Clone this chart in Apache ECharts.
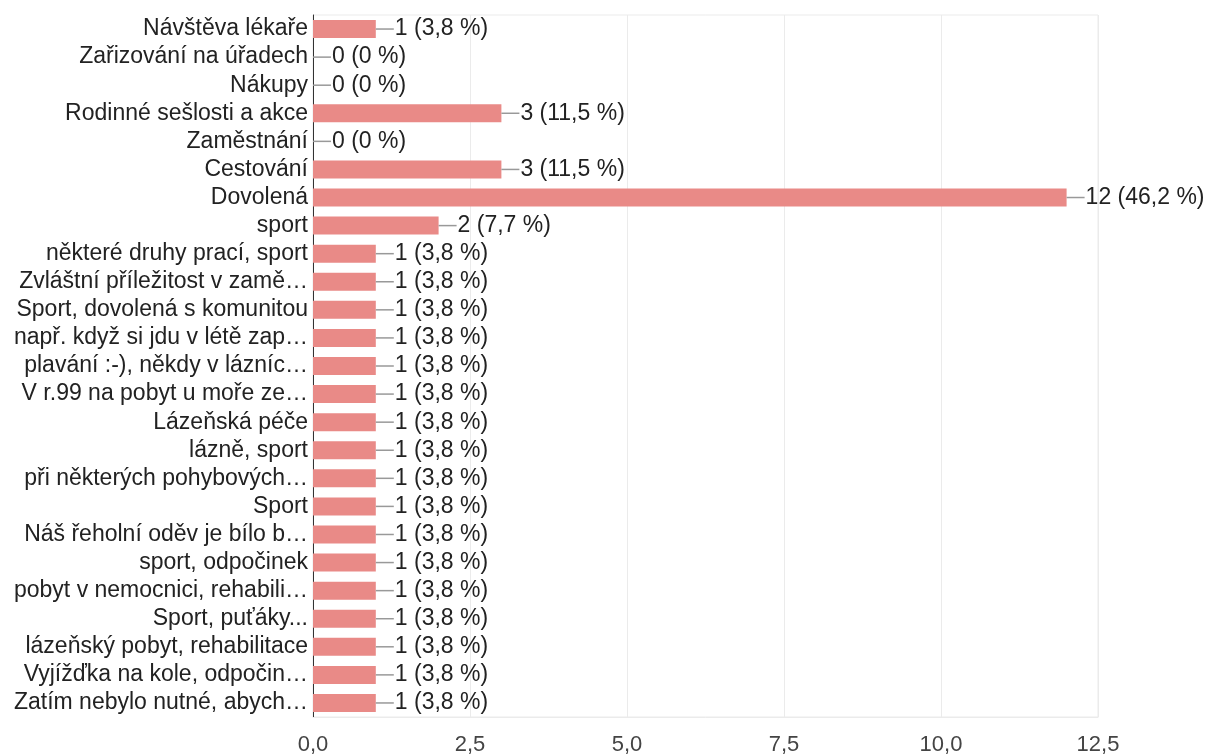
<!DOCTYPE html>
<html>
<head>
<meta charset="utf-8">
<script src="https://cdn.jsdelivr.net/npm/echarts@6/dist/echarts.min.js"></script>
<style>
  html, body { margin: 0; padding: 0; background: #fff; }
  #chart { width: 1208px; height: 756px; }
</style>
</head>
<body>
<div id="chart"></div>
<script>
const categories = [
  'Návštěva lékaře',
  'Zařizování na úřadech',
  'Nákupy',
  'Rodinné sešlosti a akce',
  'Zaměstnání',
  'Cestování',
  'Dovolená',
  'sport',
  'některé druhy prací, sport',
  'Zvláštní příležitost v zamě…',
  'Sport, dovolená s komunitou',
  'např. když si jdu v létě zap…',
  'plavání :-), někdy v lázníc…',
  'V r.99 na pobyt u moře ze…',
  'Lázeňská péče',
  'lázně, sport',
  'při některých pohybových…',
  'Sport',
  'Náš řeholní oděv je bílo b…',
  'sport, odpočinek',
  'pobyt v nemocnici, rehabili…',
  'Sport, puťáky...',
  'lázeňský pobyt, rehabilitace',
  'Vyjížďka na kole, odpočin…',
  'Zatím nebylo nutné, abych…'
]
const counts = [1, 0, 0, 3, 0, 3, 12, 2, 1, 1, 1, 1, 1, 1, 1, 1, 1, 1, 1, 1, 1, 1, 1, 1, 1]
const percents = ['3,8', '0', '0', '11,5', '0', '11,5', '46,2', '7,7', '3,8', '3,8', '3,8', '3,8', '3,8',
  '3,8', '3,8', '3,8', '3,8', '3,8', '3,8', '3,8', '3,8', '3,8', '3,8', '3,8', '3,8']
const xTicks = [0, 2.5, 5, 7.5, 10, 12.5]

const font = 'Liberation Sans'
const chart = echarts.init(document.getElementById('chart'))

chart.setOption({
  animation: false,
  grid: {
    left: 313, right: 110, top: 15, bottom: 38,
    show: true, borderColor: '#ebebeb', borderWidth: 1
  },
  xAxis: {
    type: 'value',
    min: xTicks[0],
    max: xTicks[xTicks.length - 1],
    interval: 2.5,
    axisLine: { show: true, lineStyle: { color: '#ebebeb' } },
    axisTick: { show: false },
    splitLine: { lineStyle: { color: '#ebebeb' } },
    axisLabel: {
      color: '#444', fontFamily: font, fontSize: 22, margin: 17,
      formatter: v => v.toFixed(1).replace('.', ',')
    }
  },
  yAxis: {
    type: 'category',
    inverse: true,
    data: categories,
    axisLine: { show: true, lineStyle: { color: '#333' } },
    axisTick: { show: false },
    axisLabel: { interval: 0, color: '#222', fontFamily: font, fontSize: 23, margin: 5 }
  },
  series: [{
    type: 'bar',
    data: counts,
    barWidth: 18,
    itemStyle: { color: '#e98a87' },
    label: {
      show: true,
      position: 'right',
      distance: 0,
      formatter: p => '{ln| }{v|' + p.value + ' (' + percents[p.dataIndex] + ' %)}',
      rich: {
        ln: { width: 18, height: 1.5, backgroundColor: '#999', verticalAlign: 'middle' },
        v: { color: '#222', fontFamily: font, fontSize: 23, padding: [0, 0, 0, 1] }
      }
    }
  }]
})
</script>
</body>
</html>
